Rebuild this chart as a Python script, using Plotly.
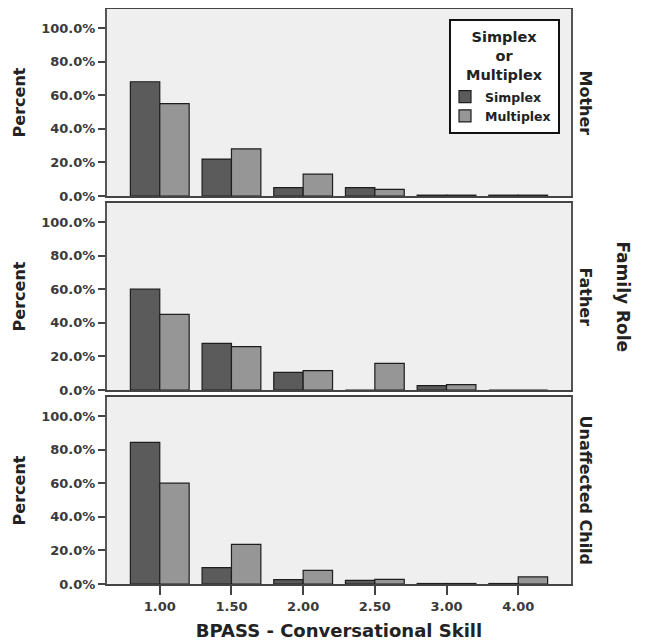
import plotly.graph_objects as go
from plotly.subplots import make_subplots

categories = ["1.00", "1.50", "2.00", "2.50", "3.00", "4.00"]
roles = ["Mother", "Father", "Unaffected Child"]
simplex = {
    "Mother": [68.0, 22.0, 5.0, 5.0, 0.5, 0.5],
    "Father": [60.0, 27.8, 10.5, 0.0, 2.6, 0.0],
    "Unaffected Child": [84.3, 9.7, 2.6, 2.2, 0.3, 0.3],
}
multiplex = {
    "Mother": [55.0, 28.0, 13.0, 4.0, 0.5, 0.5],
    "Father": [45.0, 25.8, 11.5, 15.9, 3.2, 0.0],
    "Unaffected Child": [60.0, 23.6, 8.1, 2.8, 0.3, 4.2],
}
y_ticks = [0, 20, 40, 60, 80, 100]
y_tick_labels = ["0.0%", "20.0%", "40.0%", "60.0%", "80.0%", "100.0%"]

SIMPLEX_COLOR = "#5b5b5b"
MULTIPLEX_COLOR = "#969696"
FONT = "DejaVu Sans"

fig = make_subplots(rows=3, cols=1, shared_xaxes=True, vertical_spacing=7 / 575)

for i, role in enumerate(roles):
    r = i + 1
    fig.add_trace(go.Bar(x=categories, y=simplex[role], name="Simplex",
                         marker=dict(color=SIMPLEX_COLOR, line=dict(color="#1e1e1e", width=1.2)),
                         showlegend=(i == 0), legendgroup="s", hoverinfo="skip"), row=r, col=1)
    fig.add_trace(go.Bar(x=categories, y=multiplex[role], name="Multiplex",
                         marker=dict(color=MULTIPLEX_COLOR, line=dict(color="#1e1e1e", width=1.2)),
                         showlegend=(i == 0), legendgroup="m", hoverinfo="skip"), row=r, col=1)
    fig.update_yaxes(range=[0, 111.3], tickvals=y_ticks, ticktext=y_tick_labels,
                     ticks="outside", ticklen=7, tickwidth=1.5, tickcolor="#444",
                     showgrid=False, zeroline=False, automargin=False,
                     showline=True, linecolor="#555", linewidth=2, mirror=True,
                     tickfont=dict(family=FONT, size=13, color="#3a3a3a", weight="bold"),
                     title=dict(text="<b>Percent</b>", font=dict(family=FONT, size=16, color="#222"),
                                standoff=12),
                     row=r, col=1)
    fig.update_xaxes(type="category", range=[-0.736, 5.736], showgrid=False, zeroline=False,
                     showline=True, linecolor="#444", linewidth=2, mirror=True, automargin=False,
                     row=r, col=1)
    dom = fig.layout["yaxis" + ("" if r == 1 else str(r))].domain
    fig.add_annotation(text="<b>" + role + "</b>", xref="paper", yref="paper",
                       x=1.0, xshift=14, xanchor="center", y=(dom[0] + dom[1]) / 2,
                       yanchor="middle", textangle=90, showarrow=False,
                       font=dict(family=FONT, size=16, color="#222"))

fig.update_xaxes(ticks="outside", ticklen=9, tickwidth=1.5, tickcolor="#444",
                 tickfont=dict(family=FONT, size=13, color="#3a3a3a", weight="bold"),
                 title=dict(text="<b>BPASS - Conversational Skill</b>",
                            font=dict(family=FONT, size=18, color="#222"), standoff=12),
                 row=3, col=1)
fig.update_xaxes(showticklabels=False, row=1, col=1)
fig.update_xaxes(showticklabels=False, row=2, col=1)

fig.add_annotation(text="<b>Family Role</b>", xref="paper", yref="paper",
                   x=1.0, xshift=52, xanchor="center", y=0.5, yanchor="middle",
                   textangle=90, showarrow=False,
                   font=dict(family=FONT, size=17, color="#222"))

# legend frame and centred title (page px -> paper coordinates of the plot area)
PL, PW, PT, PH = 107, 464, 9, 575
def px_x(p):
    return (p - PL) / PW
def px_y(p):
    return 1 - (p - PT) / PH

fig.add_shape(type="rect", xref="paper", yref="paper",
              x0=px_x(450), x1=px_x(559), y0=px_y(133), y1=px_y(20),
              line=dict(color="#111", width=2), fillcolor="white", layer="above")
fig.add_annotation(text="<b>Simplex<br>or<br>Multiplex</b>", xref="paper", yref="paper",
                   x=px_x(504.5), y=px_y(27), xanchor="center", yanchor="top",
                   showarrow=False, align="center",
                   font=dict(family=FONT, size=14.5, color="#222"))

# page body has an 8px margin, so the figure is sized/offset to compensate
fig.update_layout(
    width=638, height=636,
    margin=dict(l=99, r=75, t=1, b=60),
    paper_bgcolor="white", plot_bgcolor="#efefef",
    barmode="group", bargap=0.18, bargroupgap=0,
    font=dict(family=FONT, color="#222"),
    legend=dict(
        x=px_x(445), y=px_y(82), xanchor="left", yanchor="top",
        bgcolor="rgba(0,0,0,0)", borderwidth=0,
        font=dict(family=FONT, size=12.5, color="#222", weight="bold"),
        itemwidth=30, tracegroupgap=0,
    ),
)

fig.write_html("out.html")
